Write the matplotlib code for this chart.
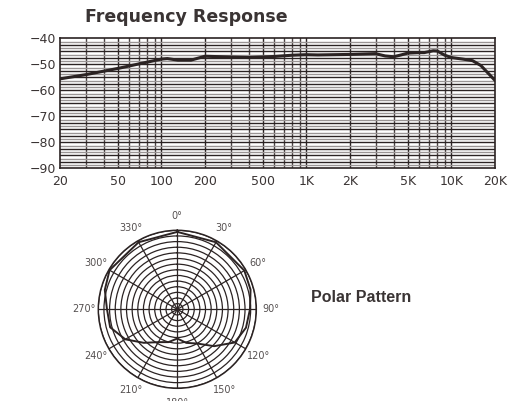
import numpy as np
import matplotlib
matplotlib.use("Agg")
import matplotlib.pyplot as plt

# frequency response (Hz, dB)
freq = [20, 30, 50, 100, 110, 130, 160, 200, 300, 400, 600, 800, 1000, 1200,
        2000, 3000, 3500, 4000, 4500, 5000, 6000, 6500, 7500, 8000, 9000,
        10000, 12000, 14000, 16000, 20000]
level = [-55.6, -54.0, -51.6, -48.0, -47.8, -48.4, -48.4, -46.9, -47.2, -47.4,
         -47.0, -46.5, -46.3, -46.4, -46.2, -45.9, -46.8, -47.1, -46.4, -45.7,
         -45.5, -45.5, -44.8, -44.9, -46.5, -47.4, -48.0, -48.6, -50.5, -56.2]
x_ticks = [20, 50, 100, 200, 500, 1000, 2000, 5000, 10000, 20000]
x_labels = ["20", "50", "100", "200", "500", "1K", "2K", "5K", "10K", "20K"]
y_ticks = [-90, -80, -70, -60, -50, -40]

# polar pattern (degrees, relative radius)
pol_deg = [0, 30, 60, 75, 90, 105, 120, 135, 150, 165, 180, 195, 210, 225,
           240, 255, 270, 285, 300, 330, 360]
pol_r = [0.98, 0.98, 0.98, 0.96, 0.92, 0.90, 0.84, 0.66, 0.50, 0.44, 0.37,
         0.43, 0.48, 0.60, 0.76, 0.88, 0.89, 0.95, 0.99, 0.98, 0.98]
pol_ticks = [0, 30, 60, 90, 120, 150, 180, 210, 240, 270, 300, 330]

ink = "#2b2323"
txt = "#3a3434"
plt.rcParams["font.family"] = ["DejaVu Sans"]

fig = plt.figure(figsize=(5.23, 4.01), dpi=100)

# ---- frequency response ----
ax = fig.add_axes([60 / 523, 1 - 168.3 / 401, 435 / 523, 130 / 401])
ax.set_xscale("log")
ax.set_xlim(20, 20000)
ax.set_ylim(-90, -40)

for d in range(1, 5):
    for m in range(1, 10):
        f = m * 10 ** d
        if 20 < f < 20000:
            ax.axvline(f, color=ink if m in (1, 2, 5) else "#4a4242", lw=1.0, zorder=1)
for i, y in enumerate(np.arange(-90, -40, 1.25)[1:]):
    ax.axhline(y, color=ink if i % 2 else "#9a9595", lw=1.0, zorder=1)

ax.plot(freq, level, color=ink, lw=2.2, zorder=3, solid_capstyle="round")

ax.set_xticks(x_ticks)
ax.set_xticklabels(x_labels)
ax.xaxis.set_minor_locator(matplotlib.ticker.NullLocator())
ax.set_yticks(y_ticks)
ax.tick_params(length=0, labelsize=9, labelcolor=txt)
ax.tick_params(axis="x", pad=5)
ax.tick_params(axis="y", pad=3)
for s in ax.spines.values():
    s.set_color(ink)
    s.set_linewidth(1.2)

fig.text(186 / 523, 1 - 17 / 401, "Frequency Response", ha="center", va="center",
         fontsize=12.5, fontweight="bold", color=txt)

# ---- polar pattern ----
pax = fig.add_axes([(177.3 - 79) / 523, (401 - 309.3 - 79) / 401, 158 / 523, 158 / 401],
                   projection="polar")
pax.set_theta_zero_location("N")
pax.set_theta_direction(-1)
pax.set_ylim(0, 1)
pax.set_rticks(np.linspace(0, 1, 15)[1:])
pax.set_yticklabels([])
pax.set_thetagrids(pol_ticks, labels=[f"{t}°" for t in pol_ticks])
pax.grid(color=ink, lw=0.9)
pax.tick_params(axis="x", labelsize=7, labelcolor="#555050", pad=0)
pax.spines["polar"].set_color(ink)
pax.spines["polar"].set_linewidth(1.1)
pax.plot(np.deg2rad(pol_deg), pol_r, color=ink, lw=1.4, zorder=3)

fig.text(361 / 523, 1 - 297 / 401, "Polar Pattern", ha="center", va="center",
         fontsize=11.5, fontweight="bold", color=txt, family="Liberation Sans")

fig.savefig("out.png", dpi=100)
